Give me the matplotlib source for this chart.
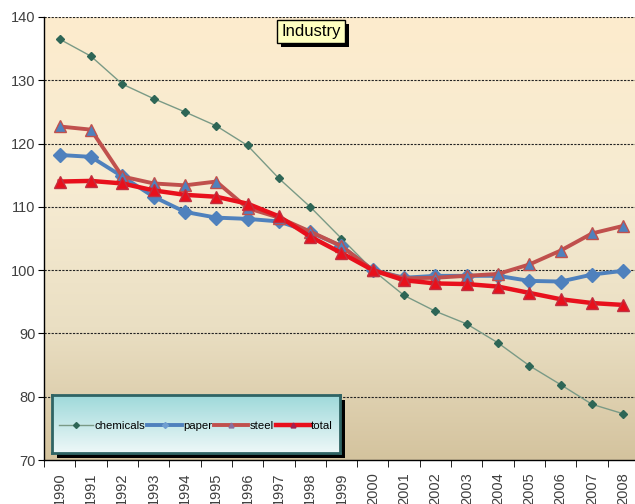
import numpy as np
import matplotlib
matplotlib.use("Agg")
import matplotlib.pyplot as plt
from matplotlib.colors import LinearSegmentedColormap
from matplotlib.patches import FancyBboxPatch
from matplotlib.lines import Line2D
import matplotlib.patheffects as pe

plt.rcParams['font.family'] = ['Liberation Sans', 'DejaVu Sans']

years = [str(y) for y in range(1990, 2009)]
chemicals = [136.5, 133.8, 129.4, 127.1, 125.0, 122.8, 119.7, 114.5, 110.0, 105.0,
             100.0, 96.0, 93.5, 91.5, 88.5, 84.9, 81.9, 78.8, 77.3]
paper = [118.2, 117.9, 114.8, 111.6, 109.2, 108.3, 108.1, 107.7, 106.0, 103.8,
         100.0, 98.8, 99.1, 99.1, 99.1, 98.3, 98.2, 99.3, 99.9]
steel = [122.7, 122.2, 114.8, 113.7, 113.4, 114.0, 109.8, 108.3, 106.1, 103.8,
         100.0, 98.7, 98.8, 99.1, 99.4, 100.9, 103.1, 105.8, 107.0]
total = [114.0, 114.1, 113.7, 112.6, 111.9, 111.6, 110.5, 108.5, 105.3, 102.7,
         100.0, 98.4, 97.9, 97.8, 97.4, 96.4, 95.4, 94.8, 94.5]
yticks = [70, 80, 90, 100, 110, 120, 130, 140]

fig = plt.figure(figsize=(6.35, 5.04), dpi=100)
ax = fig.add_axes([44 / 635, 44 / 504, 595 / 635, 443 / 504])

x = np.arange(len(years))
ax.set_xlim(-0.5, len(years) - 0.5)
ax.set_ylim(70, 140)

# plot-area gradient
cmap = LinearSegmentedColormap.from_list(
    "bg", [(0.0, "#d4c39e"), (0.3, "#eadfc3"), (0.6, "#f6ebd2"), (1.0, "#fdeccd")])
grad = np.linspace(0, 1, 256).reshape(-1, 1)
ax.imshow(grad, cmap=cmap, aspect="auto", origin="lower",
          extent=[-0.5, len(years) - 0.5, 70, 140], zorder=0)

for v in yticks[1:]:
    ax.axhline(v, color="#222222", lw=0.8, ls=(0, (2.0, 1.2)), zorder=1)

ax.plot(x, chemicals, color="#7a9a86", lw=1.0, marker="D", ms=4.5,
        mfc="#2e6656", mec="#2e6656", zorder=3, label="chemicals")
ax.plot(x, paper, color="#4f81bd", lw=2.8, marker="D", ms=7.5,
        mfc="#4f81bd", mec="#4f81bd", zorder=3, label="paper")
ax.plot(x, steel, color="#c0504d", lw=2.8, marker="^", ms=9,
        mfc="#4f81bd", mec="#c0504d", mew=1.0, zorder=3, label="steel")
ax.plot(x, total, color="#e8101c", lw=3.2, marker="^", ms=9,
        mfc="#e8101c", mec="#c03040", mew=1.0, zorder=3, label="total")

for s in ["top", "right"]:
    ax.spines[s].set_visible(False)
for s in ["left", "bottom"]:
    ax.spines[s].set_color("black")
    ax.spines[s].set_linewidth(1.0)

ax.set_yticks(yticks)
ax.set_yticklabels([str(v) for v in yticks], fontsize=10.5, color="#404040")
ax.tick_params(axis="y", direction="out", length=4, color="black", pad=2)

ax.set_xticks(x)
ax.set_xticklabels(years, rotation=90, fontsize=10.5, color="#404040")
ax.set_xticks(np.arange(-0.5, len(years), 1.0), minor=True)
ax.tick_params(axis="x", which="major", length=0, pad=9)
ax.tick_params(axis="x", which="minor", direction="out", length=5, color="black")

# title box
title = ax.text(0.449, 0.968, "Industry", transform=ax.transAxes, ha="center", va="center",
                fontsize=12, color="black", zorder=6,
                bbox=dict(boxstyle="square,pad=0.25", fc="#ffffc0", ec="black", lw=1.0))
title.get_bbox_patch().set_path_effects(
    [pe.SimplePatchShadow(offset=(3, -3), shadow_rgbFace="black", alpha=1.0), pe.Normal()])

# legend panel with cyan-to-white gradient
lx0, lx1 = (52 - 44) / 595, (340 - 44) / 595
ly0, ly1 = (460 - 453) / 443, (460 - 395) / 443
shadow = FancyBboxPatch((lx0 + 0.008, ly0 - 0.012), lx1 - lx0, ly1 - ly0,
                        boxstyle="square,pad=0", transform=ax.transAxes,
                        fc="black", ec="none", zorder=6, clip_on=False)
ax.add_patch(shadow)
lcmap = LinearSegmentedColormap.from_list("lg", ["#eef8f8", "#9ed9da"])
ax_leg = fig.add_axes([44 / 635 + lx0 * 595 / 635, 44 / 504 + ly0 * 443 / 504,
                       (lx1 - lx0) * 595 / 635, (ly1 - ly0) * 443 / 504])
ax_leg.imshow(grad, cmap=lcmap, aspect="auto", origin="lower", extent=[0, 1, 0, 1])
ax_leg.set_xticks([])
ax_leg.set_yticks([])
for s in ax_leg.spines.values():
    s.set_color("#2f6464")
    s.set_linewidth(2.0)
ax_leg.set_zorder(7)

handles, labels = ax.get_legend_handles_labels()
lh = [Line2D([], [], color="#7a9a86", lw=1.0, marker="D", ms=3, mfc="#2e6656", mec="#2e6656"),
      Line2D([], [], color="#4f81bd", lw=2.8, marker="D", ms=3, mfc="#6f9ed0", mec="#6f9ed0"),
      Line2D([], [], color="#c0504d", lw=2.8, marker="^", ms=3.5, mfc="#8a6e9e", mec="#8a6e9e"),
      Line2D([], [], color="#e8101c", lw=3.2, marker="^", ms=3.5, mfc="#a02050", mec="#a02050")]
ax_leg.legend(lh, labels, loc="center", ncol=4, frameon=False, fontsize=8.2,
              handlelength=3.0, handletextpad=0.1, columnspacing=0.2,
              borderaxespad=0, bbox_to_anchor=(0.5, 0.47))

fig.savefig("out.png", dpi=100, facecolor="white")
